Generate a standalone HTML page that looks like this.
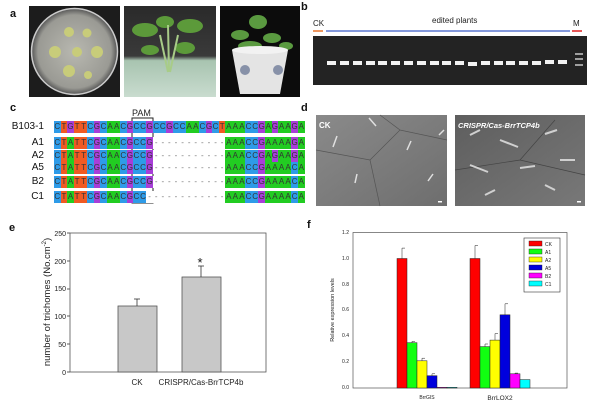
<!DOCTYPE html>
<html><head><meta charset="utf-8"><style>
body{margin:0;width:600px;height:404px;background:#fff;position:relative;overflow:hidden;font-family:"Liberation Sans",Arial,sans-serif}
.seq{position:absolute;left:54px;height:12px;white-space:nowrap;font-size:8px;line-height:12px}
.seq span{display:inline-block;width:6.6px;height:12px;text-align:center;color:#333;vertical-align:top}
.C{background:#2e9be8}.T{background:#f05a23}.G{background:#a83ed8}.A{background:#22cc22}.D{background:#fff;color:#777!important}
.lab{position:absolute;font-size:10px;color:#111;text-align:right;width:40px;left:4px}
</style></head><body>
<svg width="600" height="404" style="position:absolute;left:0;top:0">
<defs>
<radialGradient id="dish" cx="50%" cy="50%" r="50%"><stop offset="0" stop-color="#b8b8b0"/><stop offset=".85" stop-color="#9a9a94"/><stop offset="1" stop-color="#555"/></radialGradient>
<linearGradient id="jar" x1="0" y1="0" x2="0" y2="1"><stop offset="0" stop-color="#2a2a2a"/><stop offset=".55" stop-color="#3a3a3a"/><stop offset=".6" stop-color="#a8c4b0"/><stop offset="1" stop-color="#c9dccf"/></linearGradient>
<linearGradient id="sem1" x1="0" y1="0" x2="1" y2="1"><stop offset="0" stop-color="#8a8a8a"/><stop offset="1" stop-color="#6e6e6e"/></linearGradient>
<linearGradient id="sem2" x1="0" y1="0" x2="1" y2="1"><stop offset="0" stop-color="#5e5e5e"/><stop offset="1" stop-color="#787878"/></linearGradient>
</defs>
<g font-weight="bold" font-size="11" fill="#111"><text x="10" y="17">a</text><text x="301" y="10">b</text><text x="10" y="111">c</text><text x="301" y="111">d</text><text x="9" y="231">e</text><text x="307" y="228">f</text></g>
<!-- a photos -->
<rect x="29" y="6" width="91" height="91" fill="#1c1c1c"/>
<circle cx="74.5" cy="51.5" r="43" fill="url(#dish)" stroke="#ccc" stroke-width="1.5"/>
<g fill="#c8cc7a"><circle cx="69" cy="32" r="5"/><circle cx="87" cy="33" r="4.5"/><circle cx="55" cy="52" r="6"/><circle cx="77" cy="52" r="5"/><circle cx="97" cy="52" r="6"/><circle cx="69" cy="71" r="6"/><circle cx="88" cy="75" r="4"/></g>
<rect x="124" y="6" width="92" height="91" fill="url(#jar)"/>
<g fill="#5c9a3a"><ellipse cx="145" cy="30" rx="13" ry="7"/><ellipse cx="190" cy="26" rx="13" ry="7"/><ellipse cx="165" cy="22" rx="9" ry="6"/><ellipse cx="185" cy="48" rx="10" ry="6"/><ellipse cx="150" cy="50" rx="9" ry="5"/></g>
<path d="M168 72 L160 35 M170 72 L178 35 M169 72 L168 25" stroke="#a8cc88" stroke-width="2"/>
<rect x="220" y="6" width="80" height="91" fill="#0c0c0c"/>
<g fill="#5a9a40"><ellipse cx="258" cy="22" rx="9" ry="7"/><ellipse cx="240" cy="35" rx="9" ry="5"/><ellipse cx="272" cy="38" rx="9" ry="5"/><ellipse cx="286" cy="46" rx="7" ry="4"/><ellipse cx="250" cy="46" rx="12" ry="5"/></g>
<path d="M232 50 L288 50 L280 94 L240 94 Z" fill="#e4e4e4"/>
<ellipse cx="260" cy="50" rx="28" ry="4" fill="#f2f2f2"/>
<g fill="#4a5a80" opacity=".6"><circle cx="245" cy="70" r="5"/><circle cx="278" cy="70" r="5"/></g>
<!-- b gel -->
<text x="313" y="26" font-size="8" fill="#222">CK</text>
<text x="432" y="23" font-size="8" fill="#222">edited   plants</text>
<text x="573" y="26" font-size="8" fill="#222">M</text>
<line x1="313" y1="31" x2="323" y2="31" stroke="#e8742c" stroke-width="1.5"/>
<line x1="326" y1="31" x2="570" y2="31" stroke="#3a5cc8" stroke-width="1.2"/>
<line x1="572" y1="31" x2="582" y2="31" stroke="#e02020" stroke-width="1.5"/>
<rect x="313" y="36" width="274" height="49" fill="#232323"/>
<g fill="#f2f2f2">
<rect x="327" y="61" width="9" height="4"/><rect x="340" y="61" width="9" height="4"/><rect x="353" y="61" width="9" height="4"/><rect x="366" y="61" width="9" height="4"/><rect x="378" y="61" width="9" height="4"/><rect x="391" y="61" width="9" height="4"/><rect x="404" y="61" width="9" height="4"/><rect x="417" y="61" width="9" height="4"/><rect x="430" y="61" width="9" height="4"/><rect x="442" y="61" width="9" height="4"/><rect x="455" y="61" width="9" height="4"/><rect x="468" y="62" width="9" height="4"/><rect x="481" y="61" width="9" height="4"/><rect x="494" y="61" width="9" height="4"/><rect x="506" y="61" width="9" height="4"/><rect x="519" y="61" width="9" height="4"/><rect x="532" y="61" width="9" height="4"/><rect x="545" y="60" width="9" height="4"/><rect x="558" y="60" width="9" height="4"/>
<g opacity=".6"><rect x="575" y="53" width="8" height="2"/><rect x="575" y="58" width="8" height="2"/><rect x="575" y="64" width="8" height="2"/></g>
</g>
<!-- c PAM -->
<text x="132" y="116" font-size="9" fill="#222">PAM</text>
<rect x="132" y="118" width="21" height="85" fill="none" stroke="#222" stroke-width="1"/>
<!-- d SEM -->
<rect x="316" y="115" width="131" height="91" fill="url(#sem1)"/>
<path d="M316 150 L370 160 L400 130 L447 140 M370 160 L380 206 M400 130 L380 115" stroke="#555" fill="none" stroke-width=".7"/>
<g stroke="#e0e0e0" stroke-width="1.5"><line x1="333" y1="147" x2="337" y2="136"/><line x1="407" y1="150" x2="411" y2="141"/><line x1="369" y1="118" x2="376" y2="126"/><line x1="355" y1="183" x2="357" y2="174"/><line x1="428" y1="181" x2="433" y2="174"/><line x1="439" y1="135" x2="444" y2="130"/></g>
<text x="319" y="128" font-size="8" font-weight="bold" fill="#fff">CK</text>
<rect x="455" y="115" width="130" height="91" fill="url(#sem2)"/>
<path d="M455 170 L520 160 L585 175 M520 160 L555 120" stroke="#444" fill="none" stroke-width=".7"/>
<g stroke="#d0d0d0" stroke-width="2"><line x1="480" y1="130" x2="470" y2="135"/><line x1="500" y1="140" x2="518" y2="147"/><line x1="545" y1="134" x2="557" y2="130"/><line x1="560" y1="160" x2="575" y2="160"/><line x1="470" y1="165" x2="488" y2="172"/><line x1="520" y1="168" x2="535" y2="166"/><line x1="545" y1="185" x2="555" y2="190"/><line x1="485" y1="195" x2="495" y2="190"/></g>
<text x="458" y="128" font-size="7.5" font-weight="bold" font-style="italic" fill="#fff">CRISPR/Cas-BrrTCP4b</text>
<rect x="438" y="201" width="4" height="1.5" fill="#fff"/><rect x="577" y="201" width="4" height="1.5" fill="#fff"/>
<!-- e chart -->
<g font-size="7" fill="#222" text-anchor="end">
<text x="66" y="236">250</text><text x="66" y="264">200</text><text x="66" y="291">150</text><text x="66" y="319">100</text><text x="66" y="347">50</text><text x="66" y="375">0</text></g>
<g stroke="#333" stroke-width=".8"><line x1="67" y1="233" x2="70" y2="233"/><line x1="67" y1="261" x2="70" y2="261"/><line x1="67" y1="289" x2="70" y2="289"/><line x1="67" y1="316" x2="70" y2="316"/><line x1="67" y1="344" x2="70" y2="344"/><line x1="67" y1="372" x2="70" y2="372"/></g>
<rect x="70" y="233" width="196" height="139" fill="none" stroke="#555" stroke-width=".8"/>
<g fill="#c8c8c8" stroke="#555" stroke-width=".8"><rect x="118" y="306" width="39" height="66"/><rect x="182" y="277" width="39" height="95"/></g>
<g stroke="#333" stroke-width=".8"><line x1="137" y1="306" x2="137" y2="299"/><line x1="134" y1="299" x2="140" y2="299"/><line x1="201" y1="277" x2="201" y2="266"/><line x1="198" y1="266" x2="204" y2="266"/></g>
<text x="200" y="267" font-size="13" text-anchor="middle" fill="#111">*</text>
<text x="137" y="385" font-size="8" text-anchor="middle" fill="#222">CK</text>
<text x="201" y="385" font-size="8" text-anchor="middle" fill="#222">CRISPR/Cas-BrrTCP4b</text>
<text transform="translate(50,302) rotate(-90)" font-size="9.5" text-anchor="middle" fill="#222">number of trichomes (No.cm<tspan dy="-4" font-size="6">-2</tspan><tspan dy="4">)</tspan></text>
<!-- f chart -->
<g font-size="5" fill="#222" text-anchor="end">
<text x="349" y="234">1.2</text><text x="349" y="260">1.0</text><text x="349" y="286">0.8</text><text x="349" y="311">0.6</text><text x="349" y="337">0.4</text><text x="349" y="363">0.2</text><text x="349" y="389">0.0</text></g>
<rect x="353" y="232.5" width="214" height="155.5" fill="none" stroke="#555" stroke-width=".7"/>
<g stroke="#222" stroke-width=".5">
<rect x="397" y="258.5" width="10" height="129.5" fill="#f00"/><rect x="407" y="342.7" width="10" height="45.3" fill="#1f1"/><rect x="417" y="360.8" width="10" height="27.2" fill="#ff0"/><rect x="427" y="375.7" width="10" height="12.3" fill="#00d"/><rect x="437" y="387.3" width="10" height=".7" fill="#f0f"/><rect x="447" y="387.3" width="10" height=".7" fill="#0ff"/>
<rect x="470" y="258.5" width="10" height="129.5" fill="#f00"/><rect x="480" y="346.6" width="10" height="41.4" fill="#1f1"/><rect x="490" y="340.1" width="10" height="47.9" fill="#ff0"/><rect x="500" y="314.8" width="10" height="73.2" fill="#00d"/><rect x="510" y="373.8" width="10" height="14.2" fill="#f0f"/><rect x="520" y="379.6" width="10" height="8.4" fill="#0ff"/>
<path d="M402 258.5V248.1h3M412 342.7V341.4h3M422 360.8V358.2h3M432 375.7V373.8h3M475 258.5V245.5h3M485 346.6V344h3M495 340.1V333.6h3M505 314.8V303.8h3M515 373.8V373.1h3" fill="none"/>
</g>
<rect x="524" y="238" width="36" height="54" fill="#fff" stroke="#333" stroke-width=".6"/>
<g stroke="#222" stroke-width=".4"><rect x="529" y="241" width="13" height="5" fill="#f00"/><rect x="529" y="249" width="13" height="5" fill="#1f1"/><rect x="529" y="257" width="13" height="5" fill="#ff0"/><rect x="529" y="265" width="13" height="5" fill="#00d"/><rect x="529" y="273" width="13" height="5" fill="#f0f"/><rect x="529" y="281" width="13" height="5" fill="#0ff"/></g>
<g font-size="5" fill="#222"><text x="545" y="246">CK</text><text x="545" y="254">A1</text><text x="545" y="262">A2</text><text x="545" y="270">A5</text><text x="545" y="278">B2</text><text x="545" y="286">C1</text></g>
<text x="427" y="399" font-size="5" text-anchor="middle" fill="#222">BrrGIS</text>
<text x="500" y="400" font-size="6.5" text-anchor="middle" fill="#222">BrrLOX2</text>
<text transform="translate(334,310) rotate(-90)" font-size="5.5" text-anchor="middle" fill="#222">Relative expression levels</text>
</svg>
<div class="lab" style="top:121px">B103-1</div>
<div class="lab" style="top:137px">A1</div>
<div class="lab" style="top:150px">A2</div>
<div class="lab" style="top:162px">A5</div>
<div class="lab" style="top:176px">B2</div>
<div class="lab" style="top:191px">C1</div>
<div class="seq" style="top:121px"><span class="C">C</span><span class="T">T</span><span class="G">G</span><span class="T">T</span><span class="T">T</span><span class="C">C</span><span class="G">G</span><span class="C">C</span><span class="A">A</span><span class="A">A</span><span class="C">C</span><span class="G">G</span><span class="C">C</span><span class="C">C</span><span class="G">G</span><span class="C">C</span><span class="C">C</span><span class="G">G</span><span class="C">C</span><span class="C">C</span><span class="A">A</span><span class="A">A</span><span class="C">C</span><span class="G">G</span><span class="C">C</span><span class="T">T</span><span class="A">A</span><span class="A">A</span><span class="A">A</span><span class="C">C</span><span class="C">C</span><span class="G">G</span><span class="A">A</span><span class="G">G</span><span class="A">A</span><span class="A">A</span><span class="G">G</span><span class="A">A</span></div>
<div class="seq" style="top:137px"><span class="C">C</span><span class="T">T</span><span class="A">A</span><span class="T">T</span><span class="T">T</span><span class="C">C</span><span class="G">G</span><span class="C">C</span><span class="A">A</span><span class="A">A</span><span class="C">C</span><span class="G">G</span><span class="C">C</span><span class="C">C</span><span class="G">G</span><span class="D">-</span><span class="D">-</span><span class="D">-</span><span class="D">-</span><span class="D">-</span><span class="D">-</span><span class="D">-</span><span class="D">-</span><span class="D">-</span><span class="D">-</span><span class="D">-</span><span class="A">A</span><span class="A">A</span><span class="A">A</span><span class="C">C</span><span class="C">C</span><span class="G">G</span><span class="A">A</span><span class="A">A</span><span class="A">A</span><span class="A">A</span><span class="G">G</span><span class="A">A</span></div>
<div class="seq" style="top:150px"><span class="C">C</span><span class="T">T</span><span class="A">A</span><span class="T">T</span><span class="T">T</span><span class="C">C</span><span class="G">G</span><span class="C">C</span><span class="A">A</span><span class="A">A</span><span class="C">C</span><span class="G">G</span><span class="C">C</span><span class="C">C</span><span class="G">G</span><span class="D">-</span><span class="D">-</span><span class="D">-</span><span class="D">-</span><span class="D">-</span><span class="D">-</span><span class="D">-</span><span class="D">-</span><span class="D">-</span><span class="D">-</span><span class="D">-</span><span class="A">A</span><span class="A">A</span><span class="A">A</span><span class="C">C</span><span class="C">C</span><span class="G">G</span><span class="A">A</span><span class="G">G</span><span class="A">A</span><span class="A">A</span><span class="G">G</span><span class="A">A</span></div>
<div class="seq" style="top:162px"><span class="C">C</span><span class="T">T</span><span class="A">A</span><span class="T">T</span><span class="T">T</span><span class="C">C</span><span class="G">G</span><span class="C">C</span><span class="A">A</span><span class="A">A</span><span class="C">C</span><span class="G">G</span><span class="C">C</span><span class="C">C</span><span class="G">G</span><span class="D">-</span><span class="D">-</span><span class="D">-</span><span class="D">-</span><span class="D">-</span><span class="D">-</span><span class="D">-</span><span class="D">-</span><span class="D">-</span><span class="D">-</span><span class="D">-</span><span class="A">A</span><span class="A">A</span><span class="A">A</span><span class="C">C</span><span class="C">C</span><span class="G">G</span><span class="A">A</span><span class="A">A</span><span class="A">A</span><span class="A">A</span><span class="C">C</span><span class="A">A</span></div>
<div class="seq" style="top:176px"><span class="C">C</span><span class="T">T</span><span class="A">A</span><span class="T">T</span><span class="T">T</span><span class="C">C</span><span class="G">G</span><span class="C">C</span><span class="A">A</span><span class="A">A</span><span class="C">C</span><span class="G">G</span><span class="C">C</span><span class="C">C</span><span class="G">G</span><span class="D">-</span><span class="D">-</span><span class="D">-</span><span class="D">-</span><span class="D">-</span><span class="D">-</span><span class="D">-</span><span class="D">-</span><span class="D">-</span><span class="D">-</span><span class="D">-</span><span class="A">A</span><span class="A">A</span><span class="A">A</span><span class="C">C</span><span class="C">C</span><span class="G">G</span><span class="A">A</span><span class="A">A</span><span class="A">A</span><span class="A">A</span><span class="C">C</span><span class="A">A</span></div>
<div class="seq" style="top:191px"><span class="C">C</span><span class="T">T</span><span class="A">A</span><span class="T">T</span><span class="T">T</span><span class="C">C</span><span class="G">G</span><span class="C">C</span><span class="A">A</span><span class="A">A</span><span class="C">C</span><span class="G">G</span><span class="C">C</span><span class="C">C</span><span class="D">-</span><span class="D">-</span><span class="D">-</span><span class="D">-</span><span class="D">-</span><span class="D">-</span><span class="D">-</span><span class="D">-</span><span class="D">-</span><span class="D">-</span><span class="D">-</span><span class="D">-</span><span class="A">A</span><span class="A">A</span><span class="A">A</span><span class="C">C</span><span class="C">C</span><span class="G">G</span><span class="A">A</span><span class="A">A</span><span class="A">A</span><span class="A">A</span><span class="C">C</span><span class="A">A</span></div>
</body></html>
